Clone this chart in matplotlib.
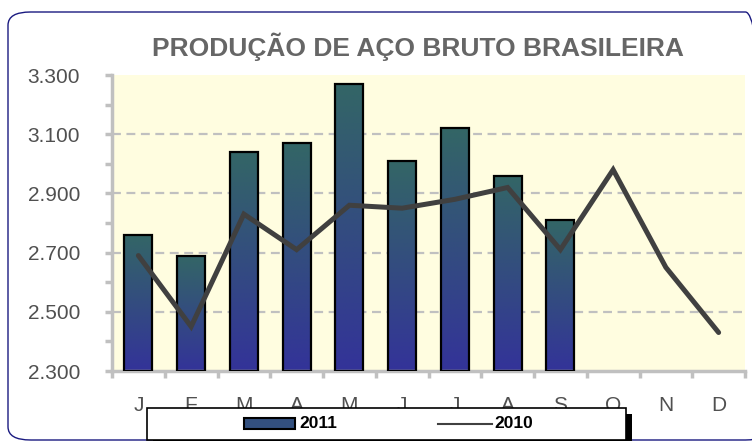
import numpy as np
import matplotlib
matplotlib.use("Agg")
import matplotlib.pyplot as plt
from matplotlib.colors import LinearSegmentedColormap
from matplotlib.patches import FancyBboxPatch, Rectangle
from matplotlib.lines import Line2D
from matplotlib.ticker import FuncFormatter, FixedLocator, MultipleLocator

plt.rcParams['font.family'] = ['Liberation Sans', 'DejaVu Sans']

months = ["J", "F", "M", "A", "M", "J", "J", "A", "S", "O", "N", "D"]
prod_2011 = [2760, 2690, 3040, 3070, 3270, 3010, 3120, 2960, 2810]
prod_2010 = [2690, 2450, 2830, 2710, 2860, 2850, 2880, 2920, 2710, 2980, 2650, 2430]
y_ticks = [2300, 2500, 2700, 2900, 3100, 3300]
y_min, y_max = 2300, 3300

W, H = 752, 441
fig = plt.figure(figsize=(W / 100, H / 100), dpi=100)
fig.patch.set_facecolor("white")

# rounded outer frame
frame = FancyBboxPatch((8 / W, 1 / H), 760 / W, 428 / H,
                       boxstyle="round,pad=0,rounding_size=0.03",
                       transform=fig.transFigure, facecolor="none",
                       edgecolor="#1a1a80", linewidth=1.0, zorder=-1)
fig.patches.append(frame)

ax = fig.add_axes([112 / W, (H - 371) / H, (745 - 112) / W, (371 - 75) / H])
ax.set_facecolor("#FFFDE0")

x = np.arange(len(months))
x11 = x[:len(prod_2011)]

grad_cmap = LinearSegmentedColormap.from_list("g", ["#333399", "#336666"])
grad = np.linspace(0, 1, 256).reshape(-1, 1)

bars = ax.bar(x11, np.array(prod_2011) - y_min, bottom=y_min, width=0.53,
              facecolor="none", edgecolor="black", linewidth=1.6, zorder=3)
for b in bars:
    x0, y0 = b.get_x(), b.get_y()
    ax.imshow(grad, extent=[x0, x0 + b.get_width(), y0, y0 + b.get_height()],
              origin="lower", cmap=grad_cmap, aspect="auto", zorder=2.5,
              interpolation="bilinear")

ax.plot(x, prod_2010, color="#404040", linewidth=3.6, zorder=4,
        solid_capstyle="round", solid_joinstyle="miter")

ax.set_xlim(-0.5, len(months) - 0.5)
ax.set_ylim(y_min, y_max)

# dashed grid on the inner labelled values
for v in y_ticks[1:-1]:
    ax.axhline(v, color="#C0C0C0", linewidth=1.6, linestyle=(0, (4, 2.5)), zorder=1)

for s in ["top", "right"]:
    ax.spines[s].set_visible(False)
for s in ["left", "bottom"]:
    ax.spines[s].set_color("#C0C0C0")
    ax.spines[s].set_linewidth(2.5)

ax.yaxis.set_major_locator(FixedLocator(y_ticks))
ax.yaxis.set_minor_locator(MultipleLocator(100))
ax.yaxis.set_major_formatter(FuncFormatter(lambda v, p: f"{v/1000:.3f}"))
ax.tick_params(axis="y", which="both", colors="#C0C0C0", width=2.5, length=5,
               labelcolor="#505050", labelsize=15, pad=18)

ax.set_xticks(x)
ax.set_xticklabels(months)
ax.set_xticks(np.arange(-0.5, len(months)), minor=True)
ax.tick_params(axis="x", which="major", length=0, labelcolor="#505050",
               labelsize=15, pad=18)
ax.tick_params(axis="x", which="minor", colors="#C0C0C0", width=2.5, length=5)

fig.text(418 / W, (H - 47) / H, "PRODUÇÃO DE AÇO BRUTO BRASILEIRA",
         ha="center", va="center", fontsize=19, fontweight="bold", color="#666666")

# legend box with shadow
lx0, lx1, ly0, ly1 = 147, 626, 408, 440
shadow = Rectangle(((lx0 + 6) / W, (H - ly1 - 6) / H), (lx1 - lx0) / W, (ly1 - ly0) / H,
                   transform=fig.transFigure, facecolor="black", edgecolor="none", zorder=5)
box = Rectangle((lx0 / W, (H - ly1) / H), (lx1 - lx0) / W, (ly1 - ly0) / H,
                transform=fig.transFigure, facecolor="white", edgecolor="black",
                linewidth=1.2, zorder=6)
fig.patches.extend([shadow, box])
ly = (H - 423.5) / H
fig.patches.append(Rectangle((244 / W, (H - 429) / H), 51 / W, 11 / H,
                             transform=fig.transFigure, facecolor="#33507f",
                             edgecolor="black", linewidth=1.5, zorder=7))
fig.lines.append(Line2D([438 / W, 492 / W], [ly, ly], transform=fig.transFigure,
                        color="#404040", linewidth=1.5, zorder=7))
fig.text(299 / W, ly, "2011", ha="left", va="center", fontsize=12.5,
         fontweight="bold", color="black", zorder=8)
fig.text(494 / W, ly, "2010", ha="left", va="center", fontsize=12.5,
         fontweight="bold", color="black", zorder=8)

fig.savefig("out.png", dpi=100)
